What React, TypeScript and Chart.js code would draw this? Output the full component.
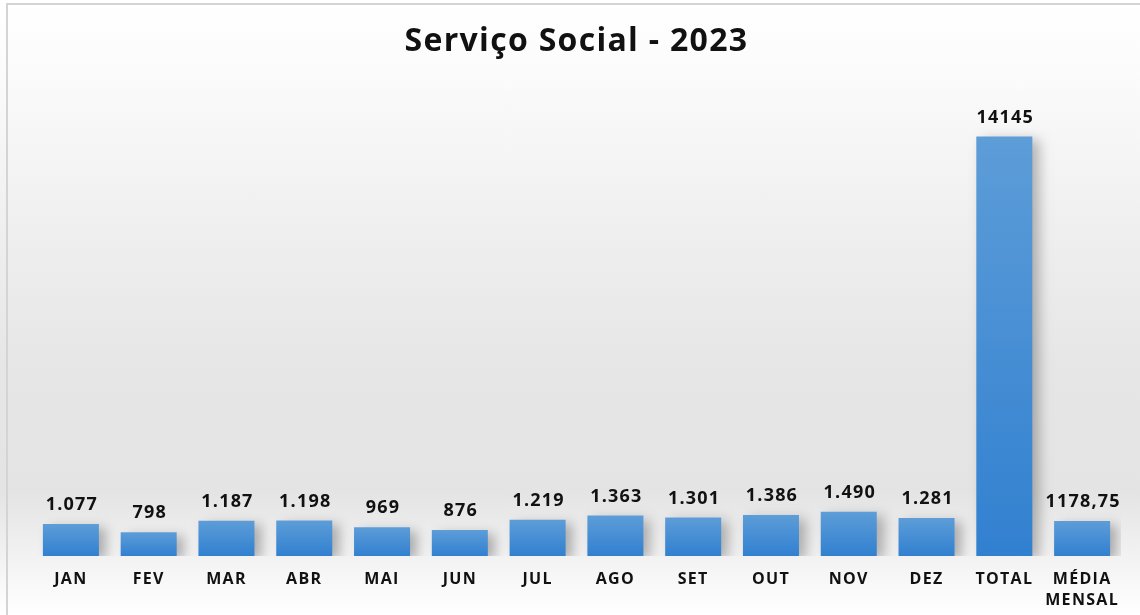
import React, { useEffect, useRef } from "react";
import { Chart, registerables } from "chart.js";

Chart.register(...registerables);

const categories: (string | string[])[] = [
  "JAN", "FEV", "MAR", "ABR", "MAI", "JUN", "JUL", "AGO", "SET", "OUT", "NOV", "DEZ", "TOTAL", ["MÉDIA", "MENSAL"],
];
const values: number[] = [1077, 798, 1187, 1198, 969, 876, 1219, 1363, 1301, 1386, 1490, 1281, 14145, 1178.75];
const valueLabels: string[] = [
  "1.077", "798", "1.187", "1.198", "969", "876", "1.219", "1.363", "1.301", "1.386", "1.490", "1.281", "14145", "1178,75",
];
const titleText = "Serviço Social - 2023";

const FONT = "'Open Sans', 'DejaVu Sans', sans-serif";

export default function App() {
  const ref = useRef<HTMLCanvasElement | null>(null);

  useEffect(() => {
    if (!ref.current) return;

    const spacingPlugin = {
      id: "spacing",
      beforeDraw(chart: any) {
        (chart.ctx as any).letterSpacing = "1.3px";
      },
    };

    const shadowPlugin = {
      id: "barShadow",
      beforeDatasetsDraw(chart: any) {
        const c = chart.ctx;
        c.save();
        c.shadowColor = "rgba(0,0,0,0.28)";
        c.shadowBlur = 12;
        c.shadowOffsetX = 7;
        c.shadowOffsetY = 4;
      },
      afterDatasetsDraw(chart: any) {
        chart.ctx.restore();
      },
    };

    const labelPlugin = {
      id: "valueLabels",
      afterDatasetsDraw(chart: any) {
        const c = chart.ctx;
        const meta = chart.getDatasetMeta(0);
        c.save();
        (c as any).letterSpacing = "1.2px";
        c.font = `bold 18px ${FONT}`;
        c.fillStyle = "#111111";
        c.textAlign = "center";
        c.textBaseline = "middle";
        meta.data.forEach((bar: any, i: number) => {
          c.fillText(valueLabels[i], bar.x + 1, bar.y - 19);
        });
        c.restore();
      },
    };

    const chart = new Chart(ref.current, {
      type: "bar",
      data: {
        labels: categories as any,
        datasets: [
          {
            data: values,
            barPercentage: 0.72,
            categoryPercentage: 1,
            backgroundColor: (ctx: any) => {
              const ch = ctx.chart;
              const area = ch.chartArea;
              if (!area) return "#4a90d6";
              const ys = ch.scales.y;
              const top = ys.getPixelForValue(ctx.parsed ? ctx.parsed.y : values[ctx.dataIndex]);
              const bottom = ys.getPixelForValue(0);
              if (!isFinite(top) || !isFinite(bottom) || top === bottom) return "#4a90d6";
              const g = ch.ctx.createLinearGradient(0, top, 0, bottom);
              g.addColorStop(0, "#5d9dd8");
              g.addColorStop(1, "#3180d0");
              return g;
            },
            borderWidth: 0,
          },
        ],
      },
      options: {
        responsive: false,
        animation: false,
        maintainAspectRatio: false,
        layout: { padding: { left: 32, right: 19, top: 0, bottom: 0 } },
        plugins: {
          legend: { display: false },
          tooltip: { enabled: false },
          title: {
            display: true,
            text: titleText,
            color: "#111111",
            font: { family: FONT, size: 32, weight: "bold" },
            padding: { top: 23, bottom: 38 },
          },
        },
        scales: {
          x: {
            grid: { display: false, drawTicks: false },
            border: { display: false },
            afterFit: (scale: any) => {
              scale.height = 59;
            },
            ticks: {
              color: "#111111",
              font: { family: FONT, size: 16, weight: "bold", lineHeight: 1.3 },
              padding: 13,
              maxRotation: 0,
              autoSkip: false,
            },
          },
          y: {
            display: false,
            min: 0,
            max: 15394,
          },
        },
      },
      plugins: [spacingPlugin, shadowPlugin, labelPlugin],
    });

    return () => chart.destroy();
  }, []);

  return (
    <div
      style={{
        position: "fixed",
        left: 0,
        top: 0,
        width: 1140,
        height: 615,
        background:
          "linear-gradient(to bottom, #ffffff 0%, #fbfbfb 12%, #f0f0f0 35%, #e6e6e6 60%, #e4e4e4 80%, #f4f4f4 92%, #ffffff 100%)",
        overflow: "hidden",
      }}
    >
      <div
        style={{
          position: "absolute",
          left: 6,
          top: 3,
          width: 1140,
          height: 620,
          borderTop: "2px solid #d4d4d4",
          borderLeft: "2px solid #d4d4d4",
          boxSizing: "border-box",
        }}
      />
      <canvas ref={ref} width={1140} height={615} style={{ position: "absolute", left: 0, top: 0 }} />
    </div>
  );
}
